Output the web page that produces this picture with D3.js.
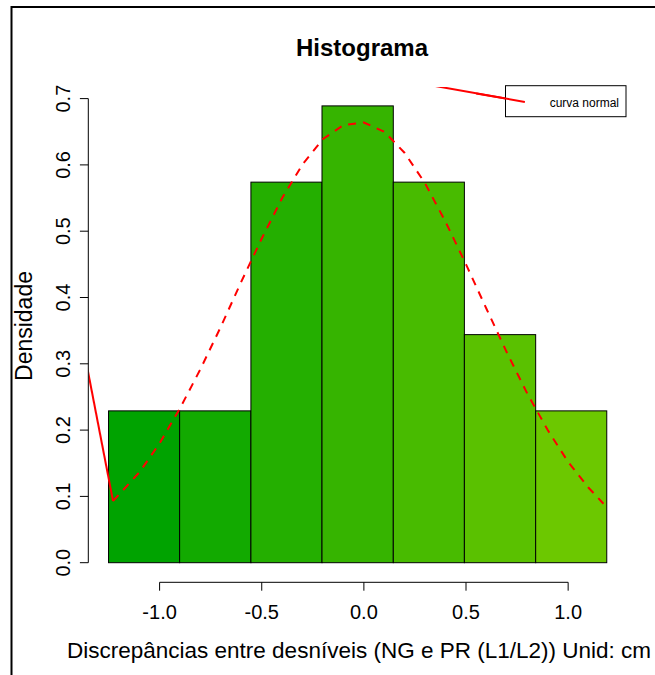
<!DOCTYPE html>
<html><head><meta charset="utf-8">
<script src="https://cdn.jsdelivr.net/npm/d3@7"></script>
<style>body{margin:0;background:#fff}svg{display:block}text{font-family:"Liberation Sans",Arial,sans-serif}</style>
</head><body>
<svg id="c" width="655" height="675"></svg>
<script>
// ---- data ----
const breaks = [-1.250, -0.902, -0.553, -0.205, 0.144, 0.492, 0.841, 1.189];
const densities = [0.229, 0.229, 0.574, 0.689, 0.574, 0.344, 0.229];
const barColors = ["#00A300", "#12AA00", "#24AF00", "#36B400", "#48BB00", "#5AC100", "#6CC800"];
const curveX = [-1.228, -1.1, -1.0, -0.9, -0.8, -0.7, -0.6, -0.5, -0.4, -0.3, -0.2, -0.1, 0.0, 0.1, 0.2, 0.3, 0.4, 0.5, 0.6, 0.7, 0.8, 0.9, 1.0, 1.1, 1.173];
const curveY = [0.093, 0.136, 0.180, 0.233, 0.292, 0.356, 0.424, 0.489, 0.550, 0.601, 0.639, 0.660, 0.664, 0.650, 0.618, 0.572, 0.514, 0.450, 0.383, 0.317, 0.255, 0.200, 0.152, 0.113, 0.089];
const stray1X = [-1.45, -1.228];
const stray1Y = [0.4466, 0.093];
const stray2X = [0.15, 0.788];
const stray2Y = [0.7299, 0.695];
const xTicks = [-1.0, -0.5, 0.0, 0.5, 1.0];
const yTicks = [0.0, 0.1, 0.2, 0.3, 0.4, 0.5, 0.6, 0.7];
const title = "Histograma";
const xTitle = "Discrepâncias entre desníveis (NG e PR (L1/L2)) Unid: cm";
const yTitle = "Densidade";
const legendLabel = "curva normal";

// ---- scales ----
const x = d3.scaleLinear().domain([-1.3476, 1.2876]).range([88.6, 626.9]);
const y = d3.scaleLinear().domain([0, 0.7]).range([562.7, 98.6]);
const svg = d3.select("#c");

// outer frame
svg.append("rect").attr("x", 11.5).attr("y", 7).attr("width", 700).attr("height", 700)
  .attr("fill", "none").attr("stroke", "#000").attr("stroke-width", 2);

// clip to plot region
svg.append("clipPath").attr("id", "pr").append("rect")
  .attr("x", x.range()[0]).attr("y", y(0.7176)).attr("width", x.range()[1] - x.range()[0])
  .attr("height", y(-0.0276) - y(0.7176));

// bars
const bins = densities.map((d, i) => ({x0: breaks[i], x1: breaks[i + 1], d, c: barColors[i]}));
svg.append("g").selectAll("rect").data(bins).join("rect")
  .attr("x", b => x(b.x0)).attr("width", b => x(b.x1) - x(b.x0))
  .attr("y", b => y(b.d)).attr("height", b => y(0) - y(b.d))
  .attr("fill", b => b.c).attr("stroke", "#000").attr("stroke-width", 1);

// curve
const line = d3.line().x(d => x(d[0])).y(d => y(d[1]));
const g = svg.append("g").attr("clip-path", "url(#pr)");
g.append("path").attr("d", line(curveX.map((v, i) => [v, curveY[i]])))
  .attr("fill", "none").attr("stroke", "#FF0000").attr("stroke-width", 2).attr("stroke-dasharray", "8,7");
g.append("path").attr("d", line(stray1X.map((v, i) => [v, stray1Y[i]])))
  .attr("fill", "none").attr("stroke", "#FF0000").attr("stroke-width", 2);
g.append("path").attr("d", line(stray2X.map((v, i) => [v, stray2Y[i]])))
  .attr("fill", "none").attr("stroke", "#FF0000").attr("stroke-width", 2);

// x axis
const xa = svg.append("g").attr("transform", "translate(0,582.3)");
xa.append("line").attr("x1", x(xTicks[0])).attr("x2", x(xTicks[xTicks.length - 1]))
  .attr("stroke", "#000");
xa.selectAll("line.t").data(xTicks).join("line").attr("class", "t")
  .attr("x1", d => x(d)).attr("x2", d => x(d)).attr("y1", 0).attr("y2", 8.4).attr("stroke", "#000");
xa.selectAll("text").data(xTicks).join("text")
  .attr("x", d => x(d)).attr("y", 36.5).attr("text-anchor", "middle")
  .attr("font-size", 20).text(d => d3.format(".1f")(d).replace("−", "-"));

// y axis
const ya = svg.append("g").attr("transform", "translate(88.3,0)");
ya.append("line").attr("y1", y(0)).attr("y2", y(0.7)).attr("stroke", "#000");
ya.selectAll("line.t").data(yTicks).join("line").attr("class", "t")
  .attr("y1", d => y(d)).attr("y2", d => y(d)).attr("x1", 0).attr("x2", -8.4).attr("stroke", "#000");
ya.selectAll("text").data(yTicks).join("text")
  .attr("transform", d => `translate(-18,${y(d)}) rotate(-90)`).attr("text-anchor", "middle")
  .attr("font-size", 20).text(d => d3.format(".1f")(d));

// titles
svg.append("text").attr("x", 362).attr("y", 56).attr("text-anchor", "middle")
  .attr("font-size", 24).attr("font-weight", "bold").text(title);
svg.append("text").attr("x", 359).attr("y", 658).attr("text-anchor", "middle")
  .attr("font-size", 22.5).text(xTitle);
svg.append("text").attr("transform", "translate(32,326) rotate(-90)").attr("text-anchor", "middle")
  .attr("font-size", 23).text(yTitle);

// legend
svg.append("rect").attr("x", 505.5).attr("y", 85.7).attr("width", 120.5).attr("height", 31)
  .attr("fill", "#fff").attr("stroke", "#000").attr("stroke-width", 1);
svg.append("path").attr("d", line([[0.55, 0.7078], [0.788, 0.695]]))
  .attr("fill", "none").attr("stroke", "#FF0000").attr("stroke-width", 2);
svg.append("text").attr("x", 619).attr("y", 107.3).attr("text-anchor", "end")
  .attr("font-size", 12).text(legendLabel);
</script>
</body></html>
